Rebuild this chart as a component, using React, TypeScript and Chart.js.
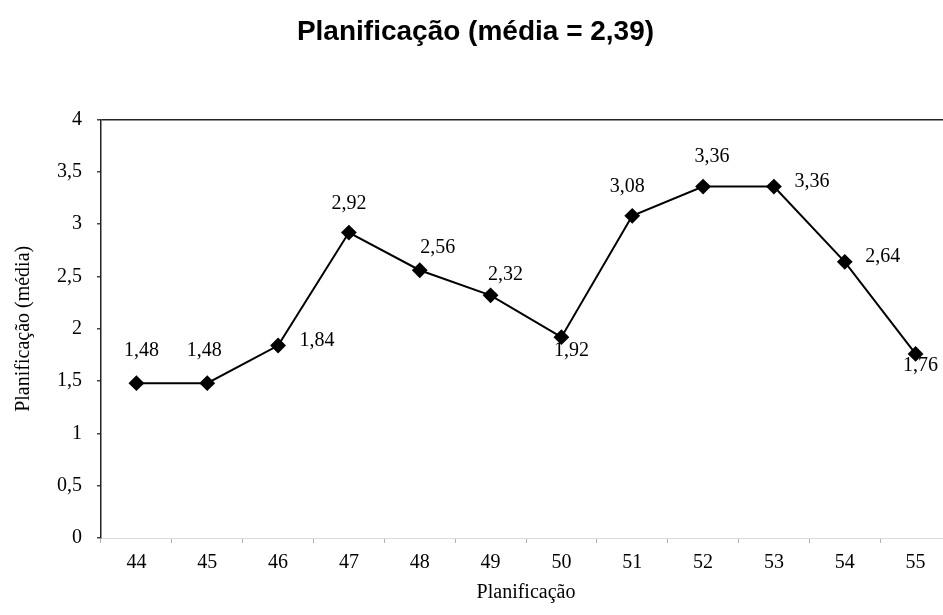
import React, { useEffect, useRef } from "react";
import { Chart, registerables } from "chart.js";

Chart.register(...registerables);

// Survey items and their mean "Planificação" score
const items = ["44", "45", "46", "47", "48", "49", "50", "51", "52", "53", "54", "55"];
const means = [1.48, 1.48, 1.84, 2.92, 2.56, 2.32, 1.92, 3.08, 3.36, 3.36, 2.64, 1.76];
const overallMean = "2,39";

// Where each value label sits relative to its marker (dx, dy in px)
const labelOffsets: [number, number][] = [
  [5, -32], [-3, -32], [39, -5], [0, -29], [18, -22], [15, -21],
  [10, 14], [-5, -29], [9, -30], [38, -5], [38, -5], [5, 12],
];

const SERIF = "'Liberation Serif', 'Times New Roman', serif";
const SANS = "'Liberation Sans', Arial, sans-serif";

const comma = (v: number, digits: number) => v.toFixed(digits).replace(".", ",");

const valueLabels = {
  id: "valueLabels",
  afterDatasetsDraw(chart: any) {
    const { ctx } = chart;
    const meta = chart.getDatasetMeta(0);
    ctx.save();
    ctx.font = `20px ${SERIF}`;
    ctx.fillStyle = "#000";
    ctx.textAlign = "center";
    ctx.textBaseline = "middle";
    meta.data.forEach((pt: any, i: number) => {
      const [dx, dy] = labelOffsets[i] || [0, -30];
      ctx.fillText(comma(means[i], 2), pt.x + dx, pt.y + dy);
    });
    ctx.restore();
  },
};

export default function App() {
  const canvasRef = useRef<HTMLCanvasElement | null>(null);

  useEffect(() => {
    document.documentElement.style.overflow = "hidden";
    document.body.style.margin = "0";
    document.body.style.overflow = "hidden";
  }, []);

  useEffect(() => {
    if (!canvasRef.current) return;
    const chart = new Chart(canvasRef.current, {
      type: "line",
      data: {
        labels: items,
        datasets: [
          {
            data: means,
            borderColor: "#000",
            borderWidth: 2,
            backgroundColor: "#000",
            pointStyle: "rectRot",
            pointRadius: 6.5,
            pointBackgroundColor: "#000",
            pointBorderColor: "#000",
            tension: 0,
            clip: false,
          },
        ],
      },
      options: {
        responsive: true,
        maintainAspectRatio: false,
        devicePixelRatio: 1,
        animation: false,
        layout: { padding: 0, autoPadding: false },
        plugins: {
          legend: { display: false },
          tooltip: { enabled: false },
          title: {
            display: true,
            text: `Planificação (média = ${overallMean})`,
            color: "#000",
            font: { family: SANS, size: 28, weight: "bold" },
            padding: { top: 15, bottom: 71 },
          },
        },
        scales: {
          x: {
            type: "category",
            offset: true,
            afterFit: (s: any) => {
              s.height = 77;
              s.paddingLeft = 0;
              s.paddingRight = 0;
            },
            border: { display: true, color: "#dadada", width: 1 },
            grid: {
              display: true,
              drawOnChartArea: false,
              drawTicks: true,
              tickLength: 5,
              tickColor: "#b0b0b0",
              offset: true,
            },
            ticks: {
              color: "#000",
              font: { family: SERIF, size: 20 },
              padding: 8,
              maxRotation: 0,
            },
            title: {
              display: true,
              text: "Planificação",
              color: "#000",
              font: { family: SERIF, size: 20 },
              padding: { top: 0, bottom: 10 },
            },
          },
          y: {
            min: 0,
            max: 4,
            afterFit: (s: any) => {
              s.width = 101;
            },
            border: { display: true, color: "#222", width: 1.5 },
            grid: {
              display: true,
              drawOnChartArea: true,
              drawTicks: true,
              tickLength: 4,
              lineWidth: 1.5,
              color: (c: any) => (c.tick && c.tick.value === 4 ? "#222" : "rgba(0,0,0,0)"),
              tickColor: "#444",
            },
            ticks: {
              stepSize: 0.5,
              color: "#000",
              padding: 15,
              font: { family: SERIF, size: 20 },
              callback: (v: any) => String(v).replace(".", ","),
            },
            title: {
              display: true,
              text: "Planificação (média)",
              color: "#000",
              font: { family: SERIF, size: 20 },
              padding: { top: 12, bottom: 0 },
            },
          },
        },
      },
      plugins: [valueLabels],
    });
    return () => chart.destroy();
  }, []);

  return (
    <div
      style={{
        position: "relative",
        width: 943,
        height: 615,
        overflow: "hidden",
        background: "#fff",
      }}
    >
      <div style={{ position: "absolute", left: 0, top: 0, width: 951, height: 615 }}>
        <canvas ref={canvasRef} />
      </div>
    </div>
  );
}
